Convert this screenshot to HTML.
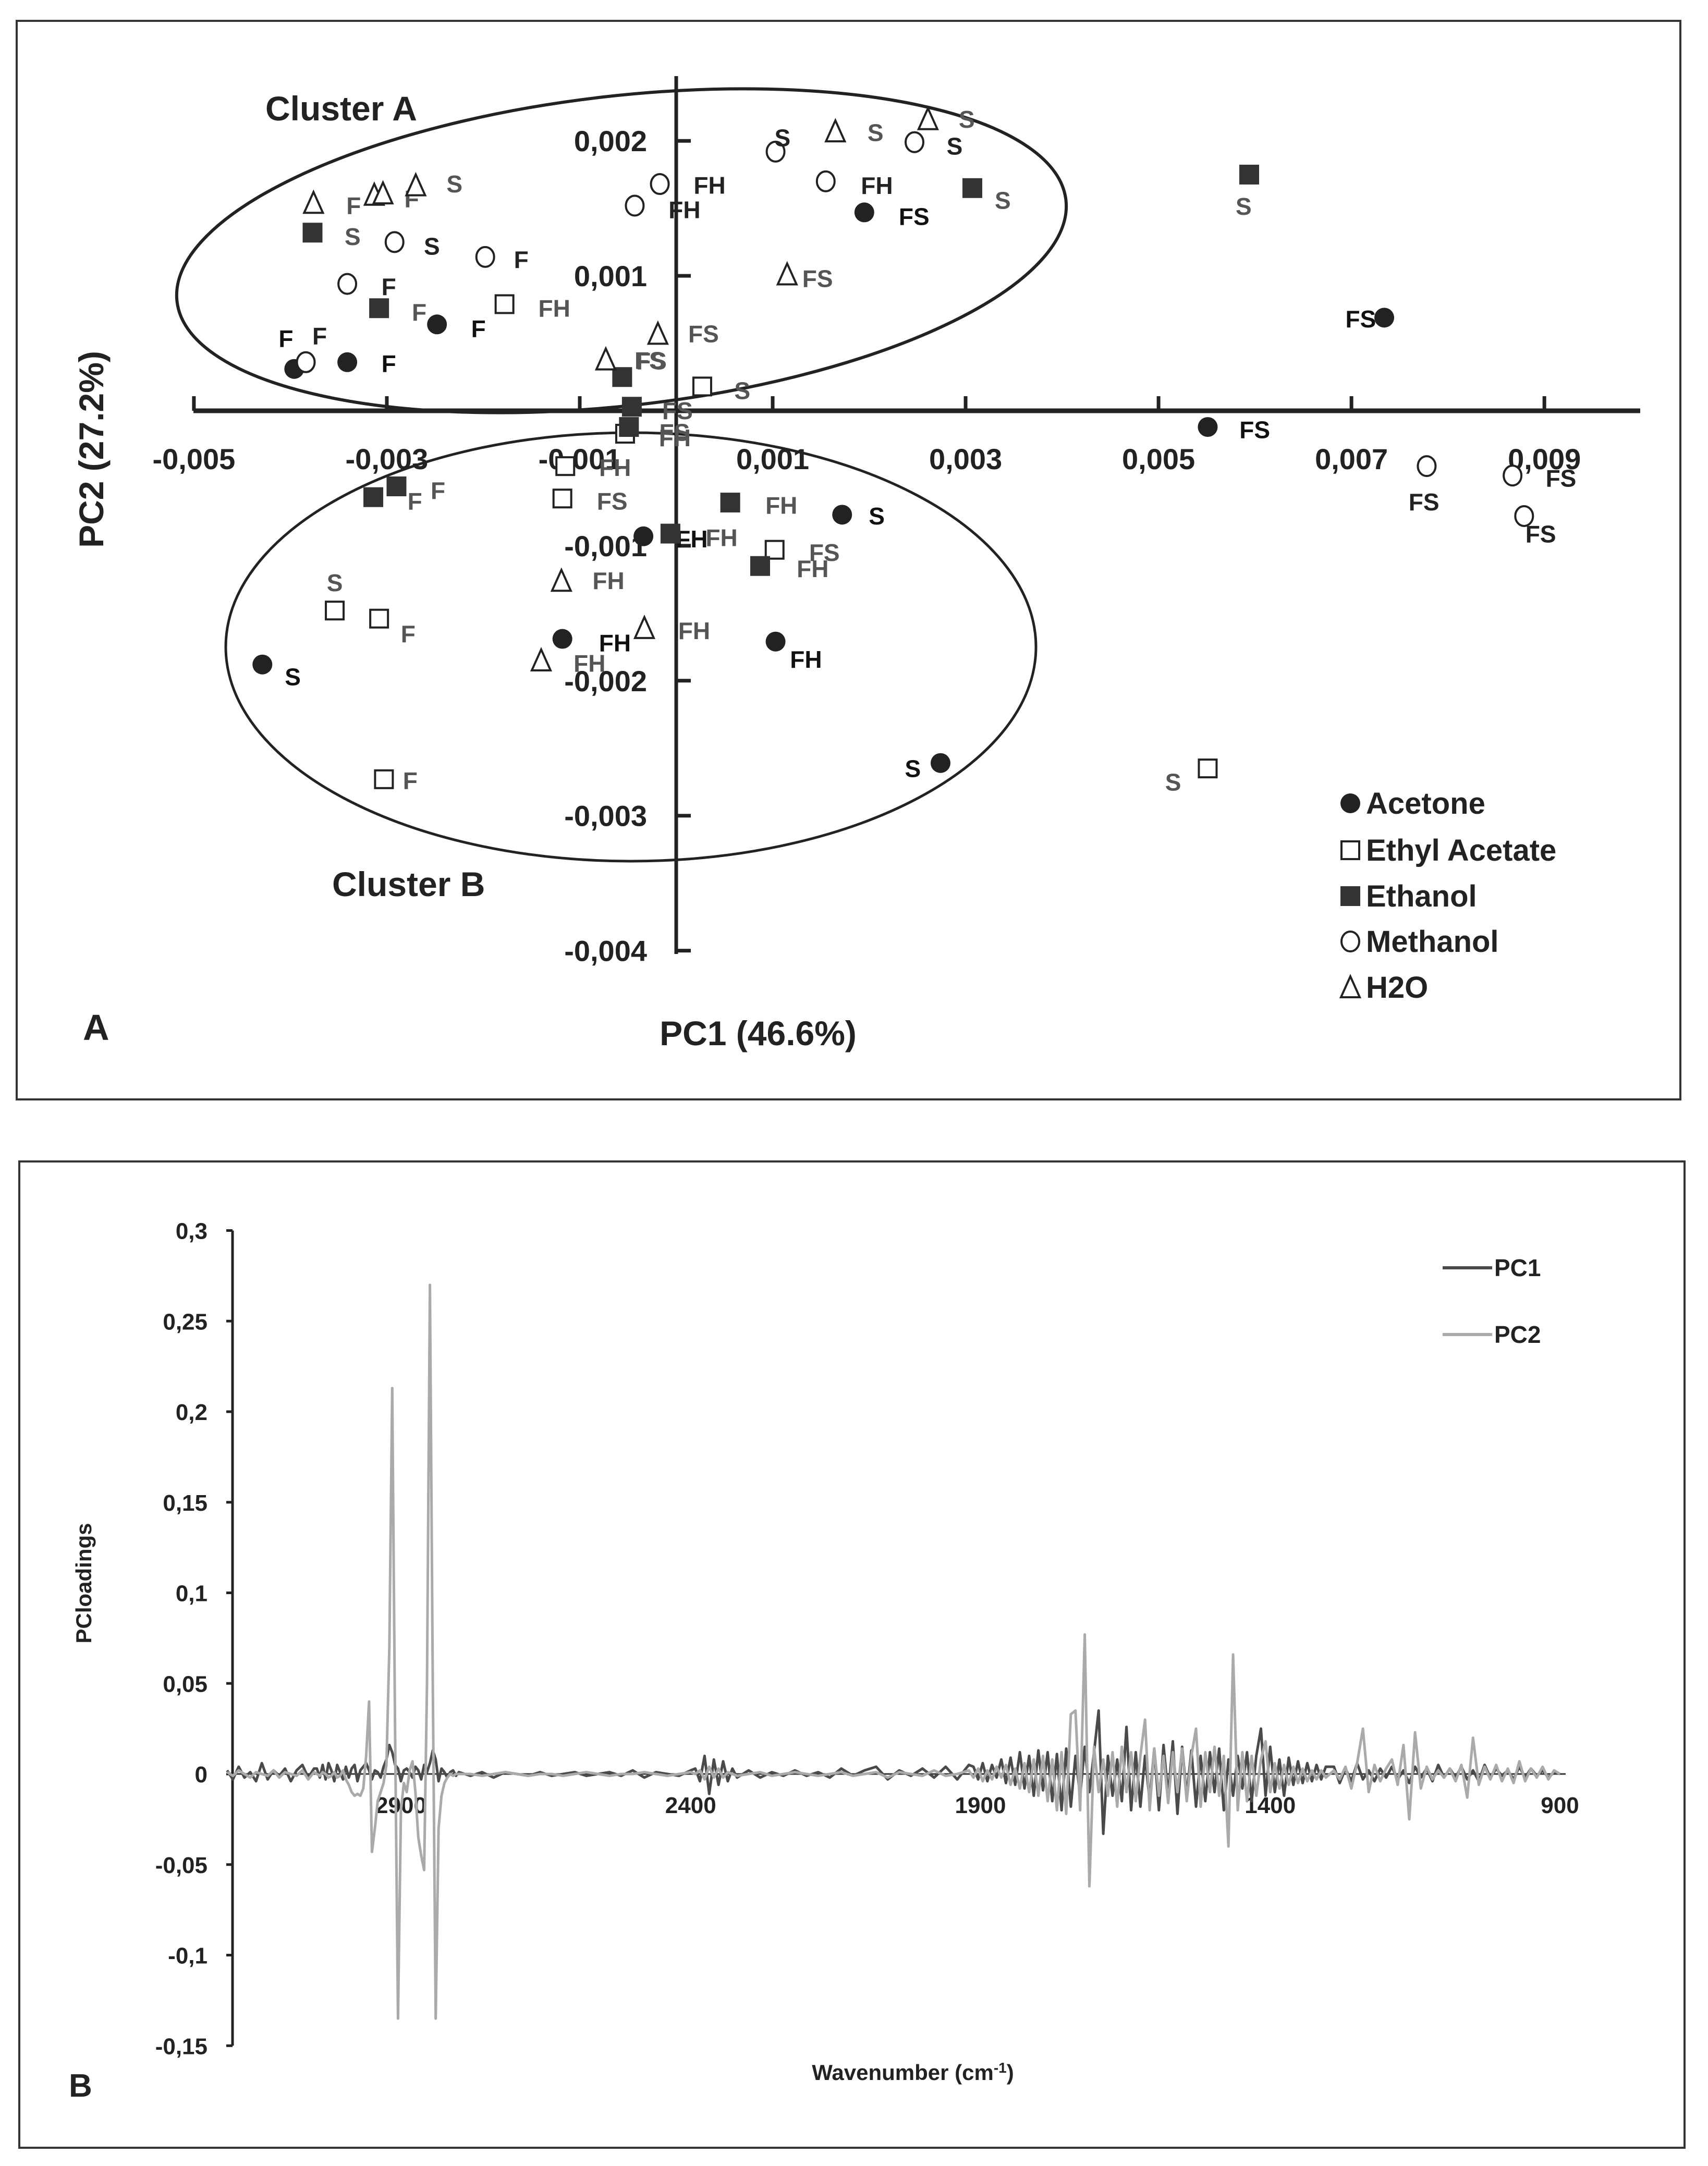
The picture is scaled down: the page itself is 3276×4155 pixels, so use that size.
<!DOCTYPE html>
<html><head><meta charset="utf-8">
<style>
html,body{margin:0;padding:0;background:#fff;}
svg{display:block;}
text{font-family:"Liberation Sans Narrow","Liberation Sans",sans-serif;font-weight:bold;}
</style></head>
<body>
<svg id="fig" width="3276" height="4155" viewBox="0 0 3276 4155" xmlns="http://www.w3.org/2000/svg">
<rect x="32" y="40" width="3191" height="2069" fill="none" stroke="#333" stroke-width="4"/>
<rect x="37" y="2228" width="3194" height="1892" fill="none" stroke="#333" stroke-width="4"/>
<g id="pa"></g>
<g id="pb"></g>
</svg>
<script>
// ---------- Panel A data ----------
const acetoneX=[-0.00396,-0.00341,-0.00248,0.00195,0.00734,0.00551,0.00172,-0.00034,-0.00118,0.00103,-0.00429,0.00274];
const acetoneY=[0.00031,0.00036,0.00064,0.00147,0.00069,-0.00012,-0.00077,-0.00093,-0.00169,-0.00171,-0.00188,-0.00261];
const acetoneLabels=["F","F","F","FS","FS","FS","S","FH","FH","FH","S","S"];
const ethylX=[-0.00178,0.00027,-0.00053,-0.00115,-0.00118,0.00102,-0.00354,-0.00308,-0.00303,0.00551];
const ethylY=[0.00079,0.00018,-0.00017,-0.00041,-0.00065,-0.00103,-0.00148,-0.00154,-0.00273,-0.00265];
const ethylLabels=["FH","S","FH","FH","FS","FS","S","F","F","S"];
const ethanolX=[-0.00377,-0.00308,-0.00056,-0.00046,-0.00049,-0.00314,-0.0029,0.00056,-0.00006,0.00087,0.00307,0.00594];
const ethanolY=[0.00132,0.00076,0.00025,0.00003,-0.00012,-0.00064,-0.00056,-0.00068,-0.00091,-0.00115,0.00165,0.00175];
const ethanolLabels=["S","F","FS","FS","FS","F","F","FH","FH","FH","S","S"];
const methanolX=[-0.00017,-0.00043,0.00103,0.00247,0.00155,-0.00292,-0.00198,-0.00341,-0.00384,0.00778,0.00867,0.00879];
const methanolY=[0.00168,0.00152,0.00192,0.00199,0.0017,0.00125,0.00114,0.00094,0.00036,-0.00041,-0.00048,-0.00078];
const methanolLabels=["FH","FH","S","S","FH","S","F","F","F","FS","FS","FS"];
const waterX=[-0.00376,-0.00313,-0.00304,-0.0027,0.00165,0.00261,0.00115,-0.00019,-0.00073,-0.00119,-0.00033,-0.0014];
const waterY=[0.00154,0.0016,0.00161,0.00167,0.00207,0.00216,0.00101,0.00057,0.00038,-0.00126,-0.00161,-0.00185];
const waterLabels=["F","F","","S","S","S","FS","FS","FS","FH","FH","FH"];
const xTicksA=[-0.005,-0.003,-0.001,0.001,0.003,0.005,0.007,0.009];
const xTickLabelsA=["-0,005","-0,003","-0,001","0,001","0,003","0,005","0,007","0,009"];
const yTicksA=[0.002,0.001,-0.001,-0.002,-0.003,-0.004];
const yTickLabelsA=["0,002","0,001","-0,001","-0,002","-0,003","-0,004"];
const legendA=["Acetone","Ethyl Acetate","Ethanol","Methanol","H2O"];

// ---------- Panel B data ----------
const wavenumbers=[3200,3190,3180,3170,3160,3150,3140,3130,3120,3110,3100,3090,3080,3070,3060,3050,
3045,3040,3035,3030,3025,3020,3015,3010,3005,3000,2995,2990,2985,2980,2975,2970,2965,2960,2955,2950,2945,2940,2935,2930,2925,2920,2915,2910,2905,2900,2895,2890,2885,2880,2875,2870,2865,2860,2855,2850,2845,2840,2835,2830,2825,2820,2815,2810,2805,2800,
2780,2760,2740,2720,2700,2680,2660,2640,2620,2600,2580,2560,2540,2520,2500,2480,2460,2440,2420,2400,
2392,2384,2376,2368,2360,2352,2344,2336,2328,2320,
2300,2280,2260,2240,2220,2200,2180,2160,2140,2120,2100,2080,2060,2040,2020,2000,1980,1960,1940,1920,
1912,1904,1896,1888,1880,1872,1864,1856,1848,1840,1832,1824,1816,1808,1800,1792,1784,1776,1768,1760,1752,1744,1736,1728,1720,1712,1704,1696,1688,1680,1672,1664,1656,1648,1640,1632,1624,1616,1608,1600,1592,1584,1576,1568,1560,1552,1544,1536,1528,1520,1512,1504,1496,1488,1480,1472,1464,1456,1448,1440,1432,1424,1416,1408,1400,1392,1384,1376,1368,1360,1352,1344,1336,1328,1320,1312,1304,
1290,1280,1270,1260,1250,1240,1230,1220,1210,1200,1190,1180,1170,1160,1150,1140,1130,1120,1110,1100,1090,1080,1070,1060,1050,1040,1030,1020,1010,1000,990,980,970,960,950,940,930,920,910,900];
const pc1=[0.002,-0.003,0.004,-0.002,0.001,-0.004,0.006,-0.003,0.002,-0.001,0.003,-0.004,0.002,0.005,-0.002,0.003,
0.003,-0.002,0.005,-0.003,0.006,0.002,-0.004,0.005,0.001,-0.003,
0.004,-0.002,0.003,0.005,-0.004,0.002,0.004,0.006,0.002,-0.003,
0.002,0.001,-0.002,0.004,0.008,0.016,0.012,0.005,0.003,-0.004,
0.002,0.003,0.001,-0.002,0.004,0.002,-0.003,0.005,0.001,0.006,
0.013,0.008,-0.004,0.003,0.001,-0.002,0.001,0.002,-0.001,0.001,
-0.001,0.001,-0.002,0.001,0,-0.001,0.001,-0.001,0,0.001,-0.001,0,0.001,-0.001,0.002,-0.002,0.001,0,-0.001,0.002,
0.003,-0.004,0.01,-0.011,0.008,-0.006,0.007,-0.004,0.003,-0.002,
0.002,-0.002,0.001,-0.001,0.002,-0.001,0.001,-0.002,0.003,-0.001,0.002,0.004,-0.003,0.002,-0.001,0.003,-0.002,0.004,-0.003,0.005,
0.004,-0.003,0.006,-0.004,0.005,-0.002,0.008,-0.005,0.009,-0.006,
0.012,-0.008,0.01,-0.012,0.013,-0.009,0.012,-0.015,0.011,-0.02,
0.014,-0.018,0.01,-0.012,0.015,-0.01,0.012,0.035,-0.033,0.01,
-0.012,0.008,-0.015,0.026,-0.02,0.012,-0.018,0.01,-0.015,0.014,
-0.02,0.016,-0.012,0.018,-0.022,0.015,-0.012,0.013,-0.018,0.01,
-0.015,0.012,-0.01,0.014,-0.02,0.008,-0.012,0.01,-0.008,0.012,
-0.015,0.01,0.025,-0.012,0.015,-0.01,0.008,-0.012,0.009,-0.006,
0.007,-0.005,0.006,-0.004,0.005,-0.003,0.004,
0.004,-0.005,0.003,-0.004,0.006,-0.003,0.002,-0.004,0.003,-0.002,
0.004,-0.003,0.002,-0.005,0.004,-0.002,0.003,-0.004,0.005,-0.002,
0.003,-0.002,0.004,-0.003,0.002,-0.004,0.005,-0.002,0.003,-0.001,
0.002,-0.003,0.004,-0.002,0.003,-0.001,0.002,-0.002,0.001,0];
const pc2=[0.001,-0.001,0.002,0,-0.002,0.001,0,-0.001,0.002,-0.002,0.001,0,-0.001,0.002,-0.003,0.001,
0,-0.001,0.001,0,-0.002,-0.001,0.001,-0.002,-0.001,0.002,
-0.003,-0.006,-0.01,-0.012,-0.011,-0.012,-0.008,0.01,0.04,-0.043,
-0.03,-0.015,-0.01,-0.005,0.005,0.07,0.213,0.02,-0.135,-0.02,
-0.005,-0.01,0.002,0.007,-0.01,-0.035,-0.045,-0.053,0.05,0.27,
0.05,-0.135,-0.03,-0.012,-0.005,-0.002,0,-0.001,0,0,
0,-0.001,0,0.001,0,-0.001,0,0,-0.001,0,0.001,0,-0.001,0,0,0.001,0,-0.001,0,0.001,
0,0.002,-0.003,0.004,-0.002,0.003,-0.002,0.001,0,-0.001,
0,0.001,-0.001,0,0.001,0,-0.001,0,0.001,-0.001,0,0.001,-0.002,0.001,0,-0.001,0.002,-0.001,0,0.002,
-0.002,0.003,-0.004,0.002,-0.003,0.004,-0.002,0.005,-0.006,0.003,
-0.008,0.006,-0.01,0.008,-0.012,0.01,-0.015,0.008,-0.02,0.012,
-0.022,0.033,0.035,-0.02,0.077,-0.062,0.015,-0.01,0.008,-0.012,
0.012,-0.018,0.015,-0.01,0.012,-0.015,0.01,0.03,-0.02,0.014,
-0.012,0.01,-0.016,0.012,-0.01,0.014,-0.015,0.01,0.025,-0.018,
0.012,-0.01,0.015,-0.012,0.01,-0.04,0.066,-0.02,0.012,-0.015,
0.01,-0.012,0.008,0.018,-0.01,0.006,-0.008,0.005,-0.006,0.004,
-0.005,0.003,-0.004,0.002,-0.003,0.002,-0.002,
0.002,-0.003,0.004,-0.008,0.006,0.025,-0.01,0.005,-0.004,0.003,
0.008,-0.006,0.016,-0.025,0.023,-0.008,0.004,-0.003,0.002,-0.002,
0.003,-0.004,0.005,-0.013,0.02,-0.006,0.004,-0.003,0.005,-0.004,
0.003,-0.005,0.007,-0.004,0.003,-0.002,0.004,-0.003,0.002,0];
const xTicksB=[2900,2400,1900,1400,900];
const xTickLabelsB=["2900","2400","1900","1400","900"];
const yTicksB=[0.3,0.25,0.2,0.15,0.1,0.05,0,-0.05,-0.1,-0.15];
const yTickLabelsB=["0,3","0,25","0,2","0,15","0,1","0,05","0","-0,05","-0,1","-0,15"];

const NS="http://www.w3.org/2000/svg";
function mk(tag,attrs,parent){const e=document.createElementNS(NS,tag);for(const k in attrs)e.setAttribute(k,attrs[k]);parent.appendChild(e);return e;}

// ---------- Panel A ----------
const pa=document.getElementById('pa');
const S=2.6526;
const XA=v=>1297+v*185019;
const YA=v=>788-v*258900;
// ellipses
let e1=mk('ellipse',{cx:1192,cy:481,rx:858,ry:297,transform:'rotate(-6.5 1192 481)',fill:'none',stroke:'#222','stroke-width':6},pa);


let e2=mk('ellipse',{cx:1210,cy:1241,rx:777,ry:411,fill:'none',stroke:'#222','stroke-width':5},pa);


// axes
let ax=mk('line',{x1:371,y1:YA(0),x2:3146,y2:YA(0),stroke:'#222','stroke-width':9},pa);


let ay=mk('line',{x1:XA(0),y1:146,x2:XA(0),y2:1830,stroke:'#222','stroke-width':7},pa);


xTicksA.forEach((t,i)=>{
  const tk=mk('line',{x1:XA(t),y1:YA(0),x2:XA(t),y2:YA(0)-28,stroke:'#222','stroke-width':7},pa);
  
  
  const tl=mk('text',{x:XA(t),y:YA(0)+112,'text-anchor':'middle','font-size':56,fill:'#222'},pa);
  tl.textContent=xTickLabelsA[i];
  
  
});
yTicksA.forEach((t,i)=>{
  const tk=mk('line',{x1:XA(0),y1:YA(t),x2:XA(0)+28,y2:YA(t),stroke:'#222','stroke-width':7},pa);
  
  
  const tl=mk('text',{x:1241,y:YA(t)+20,'text-anchor':'end','font-size':56,fill:'#222'},pa);
  tl.textContent=yTickLabelsA[i];
  
  
});
function marker(type,cx,cy,parent){
  let el;
  if(type===0) el=mk('circle',{cx:cx,cy:cy,r:19,fill:'#222'},parent);
  else if(type===1) el=mk('rect',{x:cx-17,y:cy-17,width:34,height:34,fill:'#fff',stroke:'#222','stroke-width':4},parent);
  else if(type===2) el=mk('rect',{x:cx-19,y:cy-19,width:38,height:38,fill:'#333'},parent);
  else if(type===3) el=mk('ellipse',{cx:cx,cy:cy,rx:17,ry:19,fill:'#fff',stroke:'#222','stroke-width':4},parent);
  else el=mk('path',{d:`M${cx},${cy-21} L${cx+18},${cy+19} L${cx-18},${cy+19} Z`,fill:'#fff',stroke:'#222','stroke-width':4},parent);
  return el;
}
// label offsets (thumbnail px, styling only)
const offA=[[-6,-22],[30,1],[30,3],[36,3],[-17,1],[34,2],[25,1],[35,2],[38,3],[22,13],[22,9],[-20,4]];
const offE=[[36,3],[29,3],[36,3],[36,1],[36,2],[36,2],[0,-20],[21,11],[19,1],[-25,10]];
const offEt=[[29,3],[29,3],[20,-12],[33,3],[33,4],[30,3],[30,3],[37,2],[37,3],[38,2],[22,9],[-4,23]];
const offM=[[36,1],[36,3],[5,-10],[29,3],[37,3],[27,3],[26,2],[30,2],[10,-19],[-2,26],[35,2],[12,13]];
const offW=[[29,2],[27,3],[0,0],[28,-1],[29,1],[28,0],[22,3],[33,0],[33,1],[34,0],[36,2],[35,2]];
const series=[
 {xs:acetoneX,ys:acetoneY,lb:acetoneLabels,off:offA,name:'acetone',col:'#111'},
 {xs:ethylX,ys:ethylY,lb:ethylLabels,off:offE,name:'ethyl-acetate',col:'#555'},
 {xs:ethanolX,ys:ethanolY,lb:ethanolLabels,off:offEt,name:'ethanol',col:'#555'},
 {xs:methanolX,ys:methanolY,lb:methanolLabels,off:offM,name:'methanol',col:'#222'},
 {xs:waterX,ys:waterY,lb:waterLabels,off:offW,name:'h2o',col:'#555'}];
series.forEach((s,si)=>{
  const g=mk('g',{},pa);
  
  
  s.xs.forEach((xv,i)=>{
    const cx=XA(xv),cy=YA(s.ys[i]);
    const m=marker(si,cx,cy,g);
    
    
    if(s.lb[i]){
      const o=s.off[i]||[30,2];
      const t=mk('text',{x:cx+o[0]*S,y:cy+o[1]*S+16,'text-anchor':'middle','font-size':46,fill:s.col},g);
      t.textContent=s.lb[i];
      
      
    }
  });
});
// text
function txt(parent,x,y,str,size,name,extra){const t=mk('text',Object.assign({x:x,y:y,'font-size':size,fill:'#222'},extra||{}),parent);t.textContent=str;return t;}
txt(pa,509,231,'Cluster A',66,'cluster-a-label');
txt(pa,637,1719,'Cluster B',66,'cluster-b-label');
txt(pa,159,1995,'A',70,'panel-a-label');
txt(pa,1454,2005,'PC1 (46.6%)',66,'x-axis-title',{'text-anchor':'middle'});
txt(pa,198,862,'PC2 (27.2%)',66,'y-axis-title',{'text-anchor':'middle',transform:'rotate(-90 198 862)'});
const legY=[1541,1631,1719,1806,1894];
legendA.forEach((n,i)=>{
  const g=mk('g',{},pa);
  
  
  marker(i,2590,legY[i],g);
  txt(g,2620,legY[i]+20,n,58,'legend-label');
});

// ---------- Panel B ----------
const pb=document.getElementById('pb');
const XB=w=>769+(2900-w)*1.1115;
const YB=v=>3403-v*3475;
const axb=mk('line',{x1:446,y1:YB(0),x2:3003,y2:YB(0),stroke:'#333','stroke-width':3},pb);


const ayb=mk('line',{x1:446,y1:YB(0.3),x2:446,y2:YB(-0.15),stroke:'#222','stroke-width':5},pb);


yTicksB.forEach((t,i)=>{
  const tk=mk('line',{x1:434,y1:YB(t),x2:446,y2:YB(t),stroke:'#222','stroke-width':5},pb);
  
  
  txt(pb,398,YB(t)+16,yTickLabelsB[i],44,'y-tick-label',{'text-anchor':'end'});
});
xTicksB.forEach((t,i)=>{
  txt(pb,XB(t),3478,xTickLabelsB[i],44,'x-tick-label',{'text-anchor':'middle'});
});
function linePath(vals){return vals.map((v,i)=>(i?'L':'M')+XB(wavenumbers[i]).toFixed(1)+','+YB(v).toFixed(1)).join(' ');}
const l1=mk('path',{d:linePath(pc1),fill:'none',stroke:'#4a4a4a','stroke-width':5,'stroke-linejoin':'round'},pb);


const l2=mk('path',{d:linePath(pc2),fill:'none',stroke:'#aaaaaa','stroke-width':5,'stroke-linejoin':'round'},pb);


txt(pb,175,3037,'PCloadings',42,'y-axis-title',{'text-anchor':'middle',transform:'rotate(-90 175 3037)'});
const wt=txt(pb,1751,3990,'Wavenumber (cm',42,'x-axis-title',{'text-anchor':'middle'});
const sup=document.createElementNS(NS,'tspan');sup.setAttribute('font-size','28');sup.setAttribute('dy','-14');sup.textContent='-1';wt.appendChild(sup);
const cl=document.createElementNS(NS,'tspan');cl.setAttribute('dy','14');cl.textContent=')';wt.appendChild(cl);
txt(pb,132,4022,'B',62,'panel-b-label');
const lg1=mk('g',{},pb);


mk('line',{x1:2767,y1:2432,x2:2862,y2:2432,stroke:'#4a4a4a','stroke-width':6},lg1);
txt(lg1,2866,2448,'PC1',46,'legend-label');
const lg2=mk('g',{},pb);


mk('line',{x1:2767,y1:2560,x2:2862,y2:2560,stroke:'#aaaaaa','stroke-width':6},lg2);
txt(lg2,2866,2576,'PC2',46,'legend-label');
</script>
</body></html>
